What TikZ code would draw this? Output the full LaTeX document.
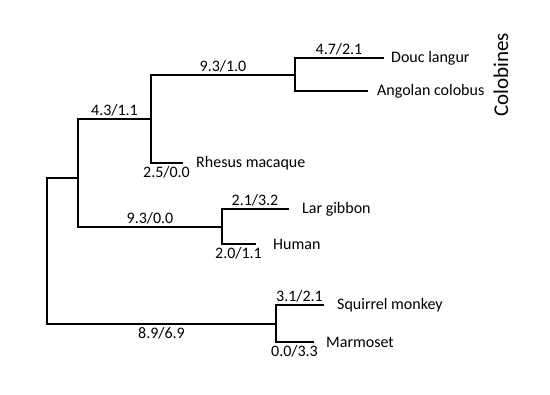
\documentclass[tikz,border=0pt]{standalone}
\usepackage{fontspec}
\setmainfont{Carlito}
\usetikzlibrary{positioning}

\begin{document}
\begin{tikzpicture}[x=1pt, y=-1pt,
    branch/.style={line width=2pt, line cap=rect},
    lbl/.style={font=\fontsize{16}{18}\selectfont, inner sep=2pt},
    leaf/.style={font=\fontsize{16}{18}\selectfont, inner sep=0pt}]
  \useasboundingbox (0,0) rectangle (550,395);

  % inner nodes of the tree
  \coordinate (root) at (47,251);
  \coordinate (cat) at (78,178);
  \coordinate (owm) at (151,119);
  \coordinate (col) at (295,75);
  \coordinate (ape) at (222,227);
  \coordinate (nwm) at (276,324);

  % branch ends
  \coordinate (douc) at (383,58);
  \coordinate (ango) at (367,91);
  \coordinate (rhes) at (182,163);
  \coordinate (lar) at (288,209);
  \coordinate (hum) at (255,244);
  \coordinate (squi) at (323,305);
  \coordinate (marm) at (313,342);

  % species
  \node[leaf, right=8pt of douc] (tdouc) {Douc langur};
  \node[leaf, right=10pt of ango] (tango) {Angolan colobus};
  \node[leaf, right=14pt of rhes] (trhes) {Rhesus macaque};
  \node[leaf, right=14pt of lar] (tlar) {Lar gibbon};
  \node[leaf, right=18pt of hum] (thum) {Human};
  \node[leaf, right=14pt of squi] (tsqui) {Squirrel monkey};
  \node[leaf, right=13pt of marm] (tmarm) {Marmoset};
  \node[font=\fontsize{21}{24}\selectfont, rotate=90] (colob) at (501,75) {Colobines};

  \draw[branch] (root) |- (cat);
  \draw[branch] (root) |- node[lbl, below, pos=0.75] {8.9/6.9} (nwm);

  \draw[branch] (cat) |- node[lbl, above, pos=0.75] {4.3/1.1} (owm);
  \draw[branch] (cat) |- node[lbl, above, pos=0.75] {9.3/0.0} (ape);

  \draw[branch] (owm) |- node[lbl, above, pos=0.75] {9.3/1.0} (col);
  \draw[branch] (owm) |- node[lbl, below, pos=0.75] {2.5/0.0} (rhes);

  \draw[branch] (col) |- node[lbl, above, pos=0.75] {4.7/2.1} (douc);
  \draw[branch] (col) |- (ango);

  \draw[branch] (ape) |- node[lbl, above, pos=0.75] {2.1/3.2} (lar);
  \draw[branch] (ape) |- node[lbl, below, pos=0.75] {2.0/1.1} (hum);

  \draw[branch] (nwm) |- node[lbl, above, pos=0.75] {3.1/2.1} (squi);
  \draw[branch] (nwm) |- node[lbl, below, pos=0.75] {0.0/3.3} (marm);
\end{tikzpicture}
\end{document}
